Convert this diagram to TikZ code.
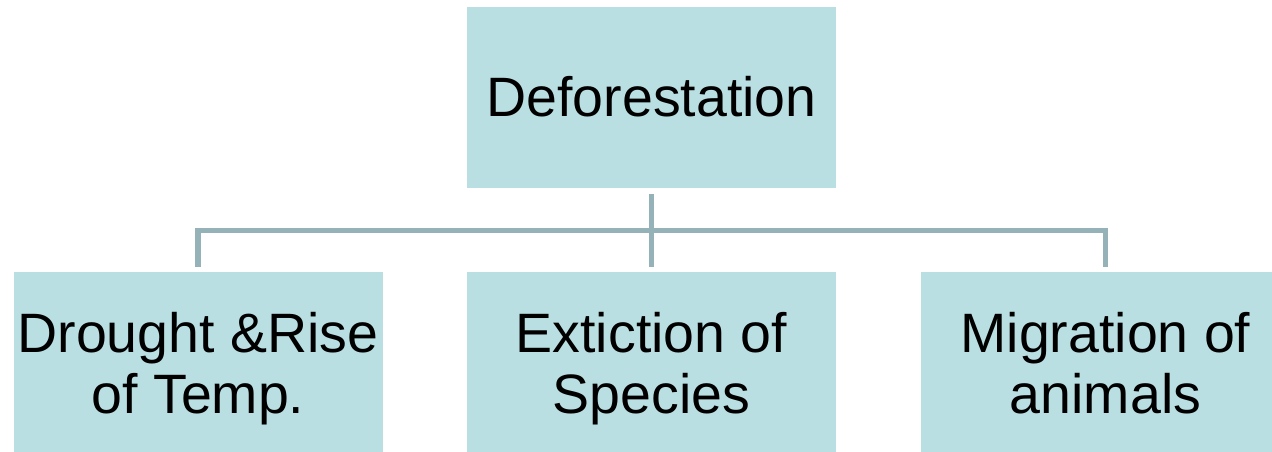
\documentclass[tikz,border=0pt]{standalone}
\usepackage{fontspec}
\setmainfont{Liberation Sans}
\definecolor{boxfill}{RGB}{186,223,227}
\definecolor{connc}{RGB}{148,178,183}
\begin{document}
\begin{tikzpicture}[x=1pt,y=-1pt,
  box/.style={fill=boxfill, draw=none, minimum width=369pt, minimum height=181pt, inner sep=0pt},
  txt/.style={inner sep=0pt, align=center, font=\fontsize{55.5}{61}\selectfont},
  conn/.style={draw=connc, line width=5.5pt}]
\useasboundingbox (0,0) rectangle (1272,451);
\clip (0,0) rectangle (1272,451);
\node[box] (top) at (651.5,97.5) {};
\node[box] (left) at (198,362.5) {};
\node[box] (mid) at (651.5,362.5) {};
\node[box] (right) at (1105.5,362.5) {};
\node[txt] (topT) at (651.5,103.8) {\strut Deforestation};
\node[txt] (leftT) at (198,370.3) {\strut Drought \&Rise\\of Temp.\strut};
\node[txt] (midT) at (651.5,370.3) {\strut Extiction of\\Species\strut};
\node[txt] (rightT) at (1105.5,370.3) {\strut Migration of\\animals\strut};
\coordinate (bar) at (652,230.5);
\draw[conn] ([yshift=-6pt]top.south) -- ([yshift=5pt]mid.north);
\draw[conn] ([yshift=5pt]left.north) |- (bar) -| ([yshift=5pt]right.north);
\end{tikzpicture}
\end{document}
